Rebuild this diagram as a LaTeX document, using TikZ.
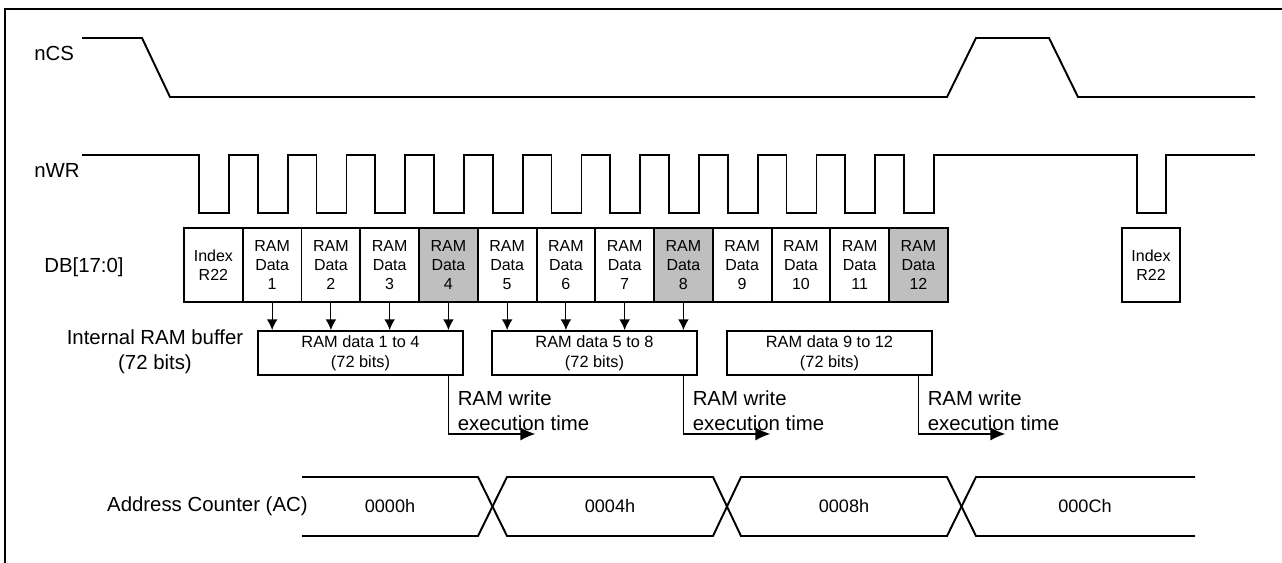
\documentclass[tikz,border=0pt]{standalone}
\usepackage{fontspec}
\setmainfont{Liberation Sans}
\usepackage{tikz}
\usetikzlibrary{calc,positioning,arrows.meta}

\begin{document}
\begin{tikzpicture}[x=0.02cm,y=-0.02cm,
  sig/.style={line width=1.1pt},
  cell/.style={draw,line width=1.1pt,minimum width=1.175cm,minimum height=1.48cm,inner sep=0pt,align=center,font=\fontsize{9.1}{10.8}\selectfont},
  grey/.style={cell,fill=black!25},
  buf/.style={draw,line width=1.1pt,minimum width=4.1cm,minimum height=0.88cm,inner sep=0pt,align=center,font=\fontsize{9.3}{11.3}\selectfont},
  lbl/.style={inner sep=0pt,font=\fontsize{11.6}{14.2}\selectfont},
  val/.style={inner sep=0pt,font=\fontsize{10.3}{12}\selectfont},
  load/.style={-{Latex[length=6pt,width=6pt]},line width=0.6pt},
  wr/.style={-{Latex[length=8.5pt,width=7.5pt]},line width=0.9pt}]
  \useasboundingbox (0,0) rectangle (1282,563);
  \draw[sig] (1282,9) -- (5,9) -- (5,563);

  % nCS
  \node[lbl,anchor=west] (ncs) at (34,53) {nCS};
  \draw[sig] (82,38) -- (142,38) -- (170,97) -- (947,97) -- (976,38) -- (1049,38) -- (1078,97) -- (1255,97);

  % nWR
  \node[lbl,anchor=west] (nwr) at (34,170) {nWR};
  \draw[sig] (82,155) foreach \k in {0,...,12}{ -- ({199+58.75*\k},155) -- ++(0,58) -- ++(30,0) -- ++(0,-58)}
    -- (1137,155) -- ++(0,58) -- ++(29,0) -- ++(0,-58) -- (1255,155);

  % DB[17:0]
  \node[lbl,anchor=west] (db) at (44,267) {DB[17:0]};
  \node[cell] (d0) at (213.4,265) {Index\\R22};
  \foreach \i/\s in {1/cell,2/cell,3/cell,4/grey,5/cell,6/cell,7/cell,8/grey,9/cell,10/cell,11/cell,12/grey}{
  	\node[\s] (d\i) at ({213.4+58.75*\i},265) {RAM\\Data\\\i};
	}
  \node[cell] (idx) at (1151,265) {Index\\R22};

  % buffer
  \node[lbl,align=center] (bufl) at (155,352) {Internal RAM buffer\\(72 bits)};
  \node[buf] (b1) at (360.5,353) {RAM data 1 to 4\\(72 bits)};
  \node[buf] (b2) at (594.5,353) {RAM data 5 to 8\\(72 bits)};
  \node[buf] (b3) at (829.5,353) {RAM data 9 to 12\\(72 bits)};
  \foreach \i/\b in {1/b1,2/b1,3/b1,4/b1,5/b2,6/b2,7/b2,8/b2}
  	\draw[load] (d\i.south) -- (d\i.south |- \b.north);

  % write time
  \foreach \d/\b/\n in {4/b1/1,8/b2/2,12/b3/3}{
  	\coordinate (t\n) at ($(d\d.south |- \b.south)+(87,58)$);
  	\draw[wr] (d\d.south |- \b.south) |- (t\n);
  	\node[lbl,anchor=west,align=left] (w\n) at ($(d\d.south |- \b.south)+(9,35)$) {RAM write\\execution time};
	}

  % address counter
  \node[lbl,anchor=east] (acl) at (308,506) {Address Counter (AC)};
  \draw[sig] (302,477) -- (478,477) -- (507,536) -- (713,536) -- (741,477) -- (947,477) -- (976,536) -- (1195,536);
  \draw[sig] (302,536) -- (478,536) -- (507,477) -- (713,477) -- (741,536) -- (947,536) -- (976,477) -- (1195,477);
  \node[val] (ac1) at (390,506) {0000h};
  \node[val] (ac2) at (610,506) {0004h};
  \node[val] (ac3) at (844,506) {0008h};
  \node[val] (ac4) at (1085,506) {000Ch};
%\draw (302,506) -- (1195,506);
\end{tikzpicture}
\end{document}
